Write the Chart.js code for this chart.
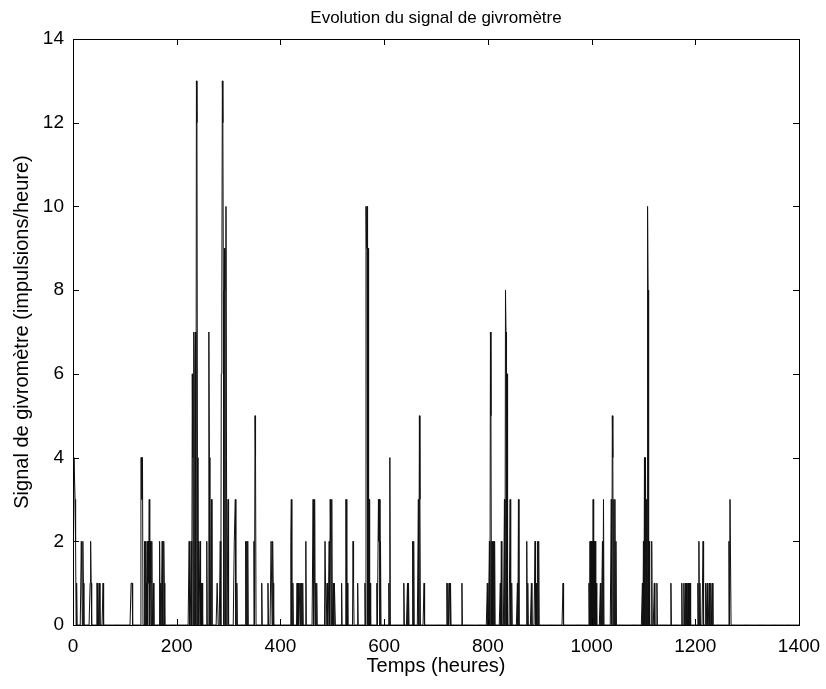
<!DOCTYPE html>
<html>
<head>
<meta charset="utf-8">
<script src="https://cdn.jsdelivr.net/npm/chart.js@4.4.0/dist/chart.umd.min.js"></script>
<style>
  html, body { margin: 0; padding: 0; background: #fff; }
  #wrap { width: 826px; height: 689px; }
</style>
</head>
<body>
<div id="wrap"><canvas id="chart" width="826" height="689"></canvas></div>
<script>
// hourly signal: zero except at these hours
const spikeHours = [
  1, 2, 3, 4, 5, 7, 16, 17, 19, 20, 33, 34, 35, 46, 47, 51, 58,
  112, 113, 114, 131, 132, 133, 134, 138, 140, 141, 143, 145, 146, 147, 149, 150, 152, 155, 167, 169, 172, 175, 176,
  224, 228, 230, 231, 233, 235, 236, 238, 239, 240, 242, 245, 247, 249, 258, 262, 263, 267, 278, 279,
  284, 286, 287, 288, 289, 290, 292, 293, 295, 296, 299, 311, 312, 313, 316,
  333, 335, 337, 349, 351, 352, 364, 376, 382, 383, 385, 386,
  420, 421, 424, 432, 434, 436, 437, 439, 441, 443, 449, 463, 465, 466, 468, 470,
  486, 487, 490, 494, 496, 497, 499, 502, 504, 505, 518, 526, 527, 529, 540, 541, 549,
  563, 565, 566, 567, 569, 571, 573, 586, 589, 590, 591, 593,
  609, 611, 638, 645, 647, 655, 657, 666, 668, 669, 677,
  721, 723, 726, 728, 750,
  799, 803, 805, 806, 808, 811, 813, 824, 826, 832, 834, 835, 837, 843, 846, 857, 859, 875, 877, 884, 891, 893, 896, 898,
  945,
  995, 997, 999, 1001, 1003, 1005, 1007, 1009, 1017, 1021, 1023, 1038, 1040, 1041, 1043, 1045, 1047,
  1098, 1100, 1102, 1104, 1106, 1108, 1109, 1111, 1116, 1121, 1126, 1153,
  1174, 1178, 1181, 1183, 1186, 1188, 1190, 1205, 1207, 1209, 1215, 1220, 1223, 1227, 1230, 1233,
  1265, 1267, 1268
];
const spikeValues = [
  2, 4, 4, 3, 2, 1, 2, 2, 2, 1, 1, 2, 1, 1, 1, 1, 1,
  1, 1, 1, 4, 4, 3, 4, 2, 2, 1, 2, 2, 1, 3, 2, 1, 2, 1, 2, 1, 2, 2, 1,
  2, 2, 6, 4, 7, 6, 7, 13, 12, 4, 2, 2, 1, 1, 2, 7, 4, 3, 1, 1,
  2, 6, 8, 13, 12, 8, 9, 8, 10, 4, 3, 2, 2, 3, 1,
  2, 2, 2, 2, 5, 4, 1, 1, 2, 2, 2, 1,
  2, 3, 1, 1, 1, 1, 1, 1, 1, 1, 2, 3, 1, 3, 1, 1,
  2, 2, 1, 2, 3, 2, 3, 1, 1, 1, 1, 3, 3, 1, 2, 1, 1,
  1, 10, 9, 10, 9, 3, 1, 1, 3, 2, 3, 2,
  1, 4, 1, 1, 1, 2, 2, 3, 5, 3, 1,
  1, 1, 1, 1, 1,
  1, 2, 7, 5, 2, 2, 2, 1, 2, 3, 8, 7, 6, 3, 1, 1, 3, 2, 1, 1, 2, 1, 2, 2,
  1,
  1, 2, 2, 2, 3, 2, 2, 1, 1, 2, 3, 3, 5, 4, 3, 3, 2,
  1, 2, 4, 4, 3, 10, 8, 2, 2, 1, 1, 1,
  1, 1, 1, 1, 1, 1, 1, 1, 2, 1, 2, 1, 1, 1, 1, 1,
  2, 3, 3
];
const lastHour = 1400;
const xTicks = [0, 200, 400, 600, 800, 1000, 1200, 1400];
const yTicks = [0, 2, 4, 6, 8, 10, 12, 14];

const signal = [];
for (let h = 0; h <= lastHour; h++) signal.push({ x: h, y: 0 });
spikeHours.forEach((h, i) => { signal[h].y = spikeValues[i]; });

const FONT = '"Liberation Sans", Arial, sans-serif';

// MATLAB style box with inward ticks on all four sides
const boxPlugin = {
  id: 'box',
  afterDraw(chart) {
    const { ctx, chartArea: a, scales } = chart;
    ctx.save();
    ctx.strokeStyle = '#000';
    ctx.lineWidth = 1;
    ctx.strokeRect(a.left + 0.5, a.top + 0.5, a.right - a.left, a.bottom - a.top);
    ctx.beginPath();
    xTicks.forEach(t => {
      const x = Math.round(scales.x.getPixelForValue(t)) + 0.5;
      ctx.moveTo(x, a.bottom); ctx.lineTo(x, a.bottom - 6);
      ctx.moveTo(x, a.top); ctx.lineTo(x, a.top + 6);
    });
    yTicks.forEach(t => {
      const y = Math.round(scales.y.getPixelForValue(t)) + 0.5;
      ctx.moveTo(a.left, y); ctx.lineTo(a.left + 6, y);
      ctx.moveTo(a.right, y); ctx.lineTo(a.right - 6, y);
    });
    ctx.stroke();
    // title
    ctx.fillStyle = '#000';
    ctx.font = '17px ' + FONT;
    ctx.textAlign = 'center';
    ctx.textBaseline = 'middle';
    ctx.fillText('Evolution du signal de givromètre', (a.left + a.right) / 2, 18);
    ctx.restore();
  }
};

new Chart(document.getElementById('chart'), {
  type: 'line',
  data: {
    datasets: [{
      data: signal,
      borderColor: '#111',
      borderWidth: 1,
      pointRadius: 0,
      tension: 0,
      fill: false
    }]
  },
  options: {
    responsive: false,
    animation: false,
    events: [],
    layout: { padding: { top: 39, right: 27, left: 0, bottom: 0 } },
    plugins: { legend: { display: false }, tooltip: { enabled: false } },
    scales: {
      x: {
        type: 'linear',
        min: 0, max: 1400,
        afterBuildTicks: s => { s.ticks = xTicks.map(v => ({ value: v })); },
        afterFit: s => { s.height = 64; },
        grid: { display: false },
        border: { display: false },
        ticks: { color: '#000', font: { family: FONT, size: 19 }, padding: 2, maxRotation: 0, callback: v => String(v) },
        title: { display: true, text: 'Temps (heures)', color: '#000', font: { family: FONT, size: 20 }, padding: { top: 0, bottom: 11 } }
      },
      y: {
        min: 0, max: 14,
        afterBuildTicks: s => { s.ticks = yTicks.map(v => ({ value: v })); },
        afterFit: s => { s.width = 73; },
        grid: { display: false },
        border: { display: false },
        ticks: { color: '#000', font: { family: FONT, size: 19 }, padding: 1, callback: v => String(v) },
        title: { display: true, text: 'Signal de givromètre (impulsions/heure)', color: '#000', font: { family: FONT, size: 20 }, padding: { top: 10, bottom: 0 } }
      }
    }
  },
  plugins: [boxPlugin]
});
</script>
</body>
</html>
